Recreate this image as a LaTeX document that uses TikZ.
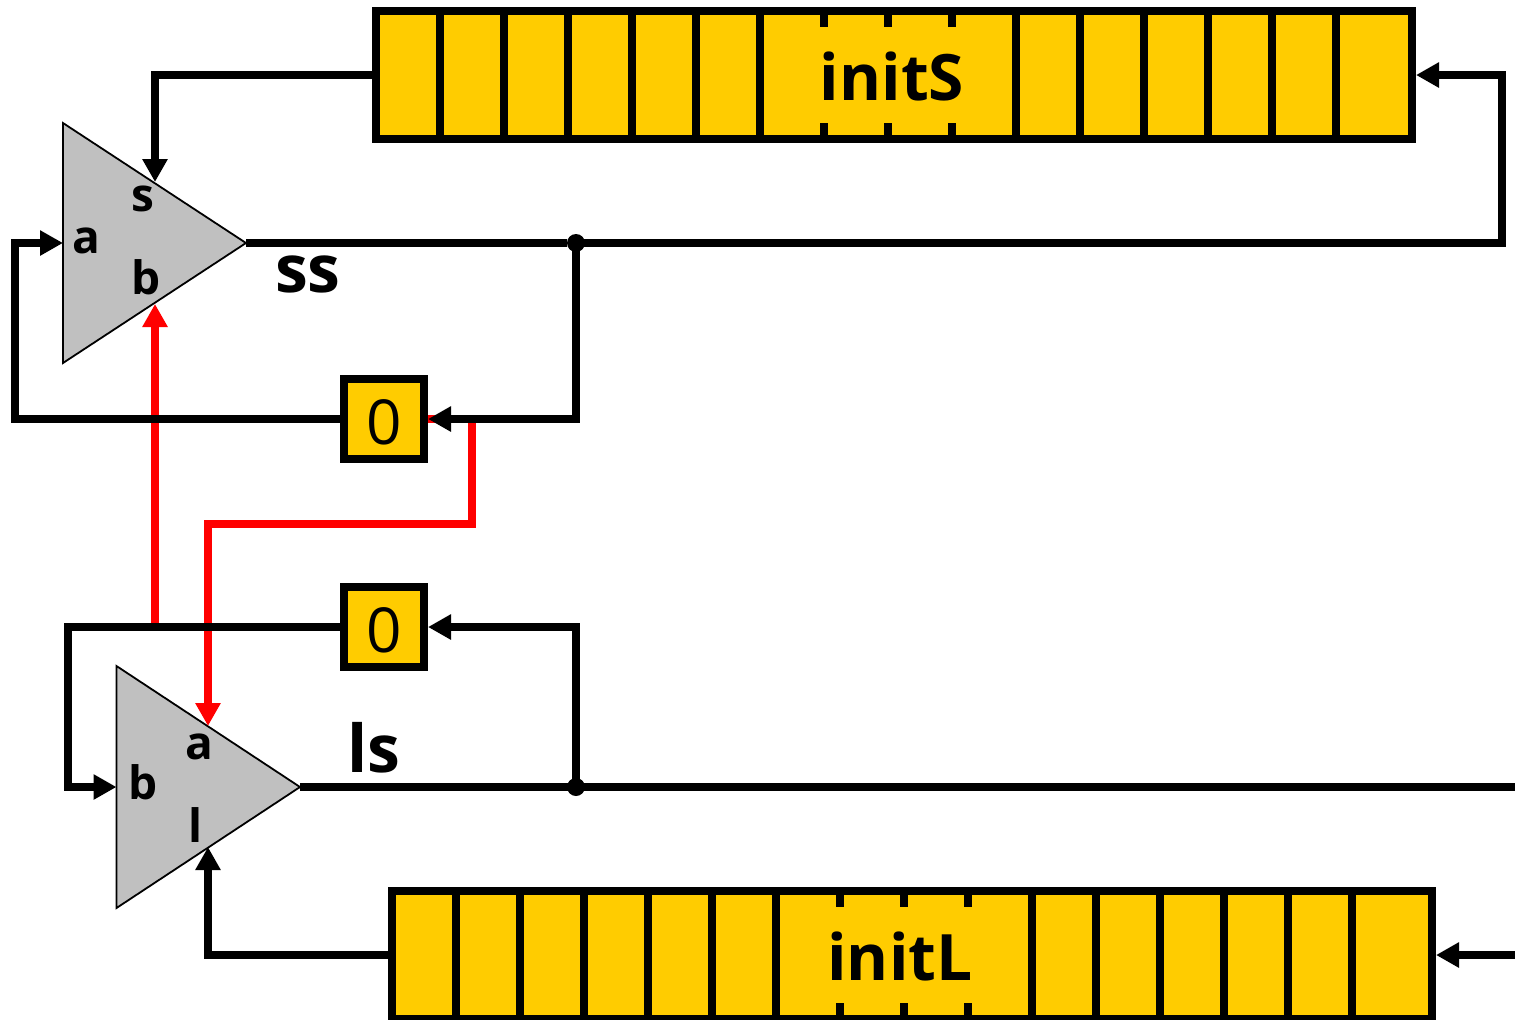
\documentclass[tikz,border=0pt]{standalone}
\usepackage{fontspec}
\setmainfont{Open Sans}
\usetikzlibrary{arrows.meta}
\definecolor{regyellow}{HTML}{FFCC00}
\definecolor{ampgrey}{HTML}{C0C0C0}
\pgfdeclarelayer{amplayer}
\pgfdeclarelayer{redlayer}
\pgfsetlayers{amplayer,redlayer,main}
\tikzset{
  wire/.style={line width=4pt,draw=black,-{Triangle[length=11.5pt,width=12pt]}},
  plainwire/.style={line width=4pt,draw=black},
  redwire/.style={line width=4pt,draw=red,-{Triangle[length=11.5pt,width=12pt,fill=red]}},
  regbox/.style={draw=black,fill=regyellow,line width=4pt,inner sep=0pt,outer sep=0pt,minimum height=64pt},
  zerobox/.style={draw=black,fill=regyellow,line width=4pt,inner sep=0pt,outer sep=0pt,minimum width=40pt,minimum height=40pt},
  cellrule/.style={line width=4pt,draw=black},
  triangleamp/.style={draw=black,fill=ampgrey,line width=0.9pt,line join=miter},
  bigtext/.style={font=\bfseries\fontsize{32}{32}\selectfont,anchor=base,inner sep=0pt},
  porttext/.style={font=\bfseries\fontsize{23}{23}\selectfont,anchor=base,inner sep=0pt},
  wiretext/.style={font=\bfseries\fontsize{33}{33}\selectfont,anchor=base,inner sep=0pt},
  zerotext/.style={font=\fontsize{31}{31}\selectfont,anchor=base,inner sep=0pt},
  junction/.style={circle,fill=black,inner sep=0pt,outer sep=0pt,minimum size=9pt}
}
\begin{document}
\begin{tikzpicture}[x=0.5pt,y=-0.5pt]
\useasboundingbox (0,0) rectangle (1515,1019);
% amplifiers
\coordinate (ampStop) at (63,123);
\coordinate (ampSbot) at (63,363);
\coordinate (ampSout) at (246,243);
\coordinate (ampLtop) at (116.5,666);
\coordinate (ampLbot) at (116.5,908);
\coordinate (ampLout) at (300,787);
\begin{pgfonlayer}{amplayer}
\draw[triangleamp] (ampStop) -- (ampSbot) -- (ampSout) -- cycle;
\draw[triangleamp] (ampLtop) -- (ampLbot) -- (ampLout) -- cycle;
\end{pgfonlayer}
% ports
\coordinate (portSs) at (155,182);
\coordinate (portSa) at (63,243);
\coordinate (portSb) at (155,304);
\coordinate (portLa) at (208,726);
\coordinate (portLb) at (116.5,787);
\coordinate (portLl) at (208,847);
% helper coordinates
\coordinate (redStart) at (155,627);
\coordinate (redTurn) at (472,524);
\coordinate (ssCorner) at (1502,243);
\coordinate (leftS) at (15,243);
\coordinate (leftL) at (68,787);
\coordinate (lsEnd) at (1515,787);
\coordinate (inLEnd) at (1515,955);
% registers and zero boxes
\node[zerobox] (zeroS) at (384,419) {};
\node[zerobox] (zeroL) at (384,627) {};
\node[regbox,minimum width=518pt] (initS) at (894,75) {};
\node[regbox,minimum width=520pt] (initL) at (912,955) {};
% red wires lie beneath the boxes and the black wires
\begin{pgfonlayer}{redlayer}
\draw[redwire] (redStart) -- (portSb);
\draw[redwire] (zeroS.east) -| (redTurn) -| (portLa);
\end{pgfonlayer}
\foreach \x in {440,504,568,632,696,760,1016,1080,1144,1208,1272,1336}
  \draw[cellrule] (\x,11) -- (\x,139);
\foreach \x in {824,888,952} {
  \draw[cellrule] (\x,11) -- (\x,27);
  \draw[cellrule] (\x,123) -- (\x,139);
}
\foreach \x in {456,520,584,648,712,776,1032,1096,1160,1224,1288,1352}
  \draw[cellrule] (\x,891) -- (\x,1019);
\foreach \x in {840,904,968} {
  \draw[cellrule] (\x,891) -- (\x,907);
  \draw[cellrule] (\x,1003) -- (\x,1019);
}
% junctions
\node[junction] (jS) at (576,243) {};
\node[junction] (jL) at (576,787) {};
% black wires
\draw[wire] (initS.west) -| (portSs);
\draw[plainwire] (ampSout) -- (jS);
\coordinate (initSin) at (1416,75);
\draw[wire] (jS.center) -- (ssCorner) |- (initSin);
\coordinate (zeroSin) at (428,419);
\draw[wire] (jS.center) |- (zeroSin);
\draw[wire] (zeroS.west) -| (leftS) -- (portSa);
\draw[wire] (zeroL.west) -| (leftL) -- (portLb);
\draw[plainwire] (ampLout) -- (lsEnd);
\coordinate (zeroLin) at (428,627);
\draw[wire] (jL.center) |- (zeroLin);
\draw[wire] (initL.west) -| (portLl);
\coordinate (initLin) at (1436,955);
\draw[wire] (inLEnd) -- (initLin);
% texts
\node[bigtext] (tInitS) at (892,100) {initS};
\node[bigtext] (tInitL) at (900,980) {initL};
\node[zerotext] (tZeroS) at (384,444) {0};
\node[zerotext] (tZeroL) at (384,652) {0};
\node[porttext] (tSs) at (143,211) {s};
\node[porttext] (tSa) at (86,253) {a};
\node[porttext] (tSb) at (146,294) {b};
\node[porttext] (tLa) at (199,759) {a};
\node[porttext] (tLb) at (143,799) {b};
\node[porttext] (tLl) at (196,842) {l};
\node[wiretext] (tss) at (308,292) {ss};
\node[wiretext] (tls) at (374,772) {ls};
\end{tikzpicture}
\end{document}
